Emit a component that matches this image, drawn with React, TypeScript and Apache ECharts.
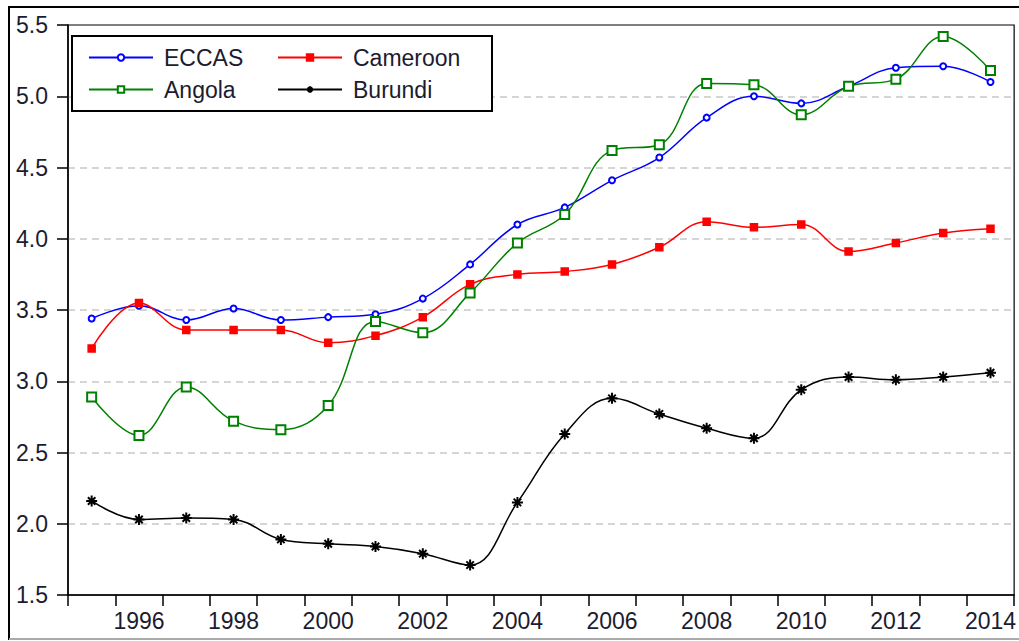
import React, { useEffect, useRef } from "react";
import * as echarts from "echarts";

const years = ["1995","1996","1997","1998","1999","2000","2001","2002","2003","2004","2005","2006","2007","2008","2009","2010","2011","2012","2013","2014"];
const eccas = [3.44,3.53,3.43,3.51,3.43,3.45,3.47,3.58,3.82,4.10,4.22,4.41,4.57,4.85,5.00,4.95,5.07,5.20,5.21,5.10];
const cameroon = [3.23,3.55,3.36,3.36,3.36,3.27,3.32,3.45,3.68,3.75,3.77,3.82,3.94,4.12,4.08,4.10,3.91,3.97,4.04,4.07];
const angola = [2.89,2.62,2.96,2.72,2.66,2.83,3.42,3.34,3.62,3.97,4.17,4.62,4.66,5.09,5.08,4.87,5.07,5.12,5.42,5.18];
const burundi = [2.16,2.03,2.04,2.03,1.89,1.86,1.84,1.79,1.71,2.15,2.63,2.88,2.77,2.67,2.60,2.94,3.03,3.01,3.03,3.06];

const FONT = "Liberation Sans, Arial, sans-serif";
const TXT = "#1c1c30";
const STAR = "path://M5,0L5,10M0,5L10,5M1.6,1.6L8.4,8.4M1.6,8.4L8.4,1.6";

export default function App() {
  const ref = useRef<HTMLDivElement>(null);
  useEffect(() => {
    if (!ref.current) return;
    const chart = echarts.init(ref.current, null, { renderer: "svg" });
    const mk = (name: string, data: number[], color: string, symbol: string, size: number, bw = 1.5) => ({
      name, type: "line", data, smooth: 0.4, symbol, symbolSize: size,
      lineStyle: { color, width: 1.5 },
      itemStyle: { color, borderColor: color, borderWidth: bw },
    });
    const legendCommon = {
      orient: "vertical", padding: 0, itemWidth: 64, itemHeight: 8, itemGap: 9, z: 6,
      textStyle: { fontFamily: FONT, fontSize: 23, color: TXT, padding: [0, 0, 0, 6] },
    };
    chart.setOption({
      animation: false,
      backgroundColor: "#fff",
      grid: { left: 68, top: 25, right: 2, bottom: 46, show: true, borderColor: "#000", borderWidth: 1.2 },
      legend: [
        { ...legendCommon, left: 88, top: 46, data: ["ECCAS", "Angola"] },
        { ...legendCommon, left: 277, top: 46, data: ["Cameroon", "Burundi"] },
      ],
      graphic: [
        { type: "line", shape: { x1: 9, y1: 7, x2: 1019, y2: 7 }, style: { stroke: "#000", lineWidth: 2 } },
        { type: "line", shape: { x1: 9, y1: 6, x2: 9, y2: 640 }, style: { stroke: "#000", lineWidth: 2 } },
        { type: "line", shape: { x1: 9, y1: 639, x2: 1019, y2: 639 }, style: { stroke: "#aaa", lineWidth: 2 } },
        { type: "rect", shape: { x: 72, y: 36, width: 420, height: 75 }, style: { fill: "#fff", stroke: "#000", lineWidth: 2 }, z: 5 },
      ],
      xAxis: {
        type: "category", data: years, boundaryGap: true,
        axisLine: { lineStyle: { color: "#000", width: 1.5 } },
        axisTick: { show: true, interval: 0, length: 11, lineStyle: { color: "#000", width: 1.5 } },
        axisLabel: { interval: (i: number) => i % 2 === 1, margin: 14, fontFamily: FONT, fontSize: 23, color: TXT },
        splitLine: { show: false },
      },
      yAxis: {
        type: "value", min: 1.5, max: 5.5, interval: 0.5,
        axisLine: { show: true, lineStyle: { color: "#000", width: 1.5 } },
        axisTick: { show: true, length: 11, lineStyle: { color: "#000", width: 1.5 } },
        axisLabel: { margin: 20, fontFamily: FONT, fontSize: 23, color: TXT, formatter: (v: number) => v.toFixed(1) },
        splitLine: { show: true, showMinLine: false, showMaxLine: false, lineStyle: { color: "#c8c8c8", type: [7, 5], width: 1.5 } },
      },
      series: [
        mk("ECCAS", eccas, "#0000ff", "emptyCircle", 6),
        mk("Cameroon", cameroon, "#ff0000", "rect", 7),
        mk("Angola", angola, "#008000", "emptyRect", 9),
        mk("Burundi", burundi, "#000000", STAR, 11, 2),
      ],
    });
    return () => chart.dispose();
  }, []);
  return <div ref={ref} style={{ position: "fixed", left: 0, top: 0, width: 1019, height: 641 }} />;
}
